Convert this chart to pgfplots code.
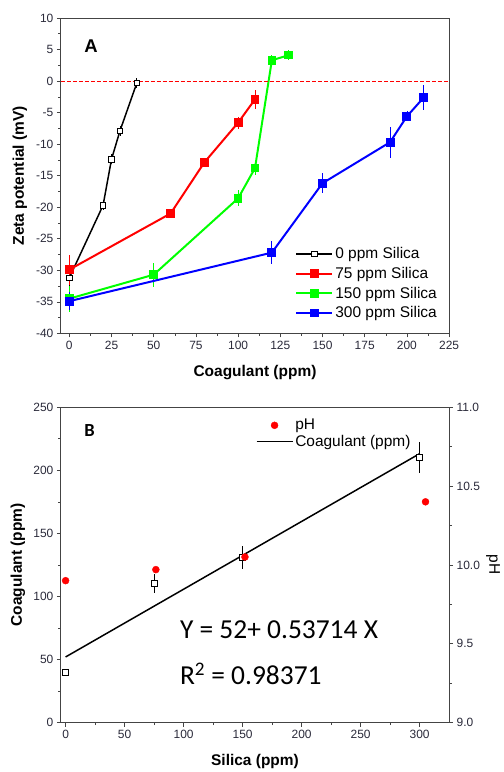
\documentclass[border=0pt]{standalone}
\usepackage{fontspec}
\setmainfont{Liberation Sans}
\newfontfamily\carlito{Carlito}
\usepackage{pgfplots}
\pgfplotsset{compat=1.18}
\definecolor{axgray}{HTML}{444444}
\definecolor{tickcol}{HTML}{2A2A3A}
\definecolor{mygreen}{HTML}{00FF00}
\definecolor{myblue}{HTML}{0000FF}
\definecolor{myred}{HTML}{FF0000}
\pgfplotsset{
  common/.style={
    scale only axis, width=389bp, height=316bp,
    tick align=outside, major tick length=4bp, minor tick length=2.5bp,
    axis line style={axgray, line width=0.8pt},
    every tick/.style={axgray, line width=0.6pt},
    /pgf/number format/assume math mode=true,
    tick label style={font=\fontsize{12bp}{14bp}\selectfont, text=tickcol},
    label style={font=\bfseries\fontsize{15.5bp}{18bp}\selectfont},
    legend image code/.code={\draw[mark repeat=2,mark phase=2,##1] plot coordinates {(0bp,0bp)(18bp,0bp)(36bp,0bp)};},
    error bars/error bar style={line width=0.8pt},
    error bars/error mark=|,
    error bars/error mark options={rotate=90, mark size=3bp, line width=0.8pt},
  }
}
\begin{document}
\begin{tikzpicture}
\path (0bp,0bp) rectangle (504bp,-772bp);
% ---------------- Panel A ----------------
\begin{axis}[common, at={(61bp,-18bp)}, anchor=north west,
  xmin=-5, xmax=225, ymin=-40, ymax=10,
  xtick={0,25,...,225}, ytick={-40,-35,...,10},
  minor x tick num=1, minor y tick num=1,
  xtick pos=bottom, ytick pos=left,
  xlabel={Coagulant (ppm)}, ylabel={Zeta potential (mV)},
  xlabel style={at={(axis description cs:0.5,-0.1234)}, anchor=center},
  ylabel style={at={(axis description cs:-0.1054,0.5)}, anchor=center},
  legend style={at={(rel axis cs:0.596,0.285)}, anchor=north west, draw=none, fill=none,
    font=\fontsize{15.5bp}{17bp}\selectfont, cells={anchor=west}, row sep=3bp},
]
\addplot[black, line width=1.5pt, mark=square*, mark size=2.8bp,
  mark options={fill=white, line width=0.8pt},
  error bars/.cd, y dir=both, y explicit]
  coordinates {(0,-31.2) +- (0,1.5) (20,-19.7) +- (0,0.3) (25,-12.4) +- (0,0.3) (30,-7.9) +- (0,0.3) (40,-0.3) +- (0,0.3)};
\addlegendentry{0 ppm Silica}
\addplot[myred, line width=2pt, mark=square*, mark size=3.5bp,
  error bars/.cd, y dir=both, y explicit]
  coordinates {(0,-29.9) +- (0,1.9) (60,-21.0) +- (0,0.3) (80,-12.9) +- (0,0.3) (100,-6.6) +- (0,0.5) (110,-2.9) +- (0,1.0)};
\addlegendentry{75 ppm Silica}
\addplot[mygreen, line width=2pt, mark=square*, mark size=3.3bp,
  error bars/.cd, y dir=both, y explicit]
  coordinates {(0,-34.5) +- (0,1.6) (50,-30.7) +- (0,1.4) (100,-18.6) +- (0,0.8) (110,-13.8) +- (0,0.6) (120,3.3) +- (0,0.3) (130,4.1) +- (0,0.3)};
\addlegendentry{150 ppm Silica}
\addplot[myblue, line width=2pt, mark=square*, mark size=3.5bp,
  error bars/.cd, y dir=both, y explicit]
  coordinates {(0,-34.9) +- (0,1.0) (120,-27.2) +- (0,1.3) (150,-16.2) +- (0,1.1) (190,-9.7) +- (0,2.0) (200,-5.6) +- (0,0.3) (210,-2.6) +- (0,1.5)};
\addlegendentry{300 ppm Silica}
\addplot[myred, mark=none, line width=1pt, dash pattern=on 4bp off 2bp] coordinates {(-5,0) (225,0)};
\node[anchor=base west, font=\bfseries\fontsize{18.5bp}{20bp}\selectfont] at (rel axis cs:0.0514,0.890) {A};
\end{axis}
% ---------------- Panel B ----------------
\begin{axis}[common, at={(61bp,-408bp)}, anchor=north west,
  xmin=-4, xmax=325, ymin=0, ymax=250,
  xtick={0,50,...,300}, ytick={0,50,...,250},
  minor x tick num=1, minor y tick num=1,
  xtick pos=bottom, ytick pos=left,
  xlabel={Silica (ppm)}, ylabel={Coagulant (ppm)},
  xlabel style={at={(axis description cs:0.5,-0.1234)}, anchor=center},
  ylabel style={at={(axis description cs:-0.1105,0.5)}, anchor=center},
]
\addplot[black, line width=1.5pt] coordinates {(0,52) (300,213.14)};
\addplot[black, only marks, mark=square*, mark size=3bp,
  mark options={fill=white, line width=0.8pt},
  error bars/.cd, y dir=both, y explicit]
  coordinates {(0,40) +- (0,0) (75,110) +- (0,5.3) (150,131) +- (0,6.8) (300,210) +- (0,10)};
\node[anchor=base west, font=\carlito\fontsize{27.5bp}{30bp}\selectfont] at (axis cs:94,66.7) {Y = 52+ 0.53714 X};
\node[anchor=base west, font=\carlito\fontsize{27.5bp}{30bp}\selectfont] at (axis cs:94,30.3) {R\textsuperscript{2} = 0.98371};
\node[anchor=base west, font=\carlito\bfseries\fontsize{18.5bp}{20bp}\selectfont] at (rel axis cs:0.0514,0.907) {B};
\end{axis}
\begin{axis}[common, at={(61bp,-408bp)}, anchor=north west,
  xmin=-4, xmax=325, ymin=9, ymax=11,
  axis x line=none, axis y line*=right,
  ytick={9,9.5,...,11}, minor y tick num=1,
  yticklabel style={/pgf/number format/.cd, fixed, fixed zerofill, precision=1},
  ylabel={pH},
  ylabel style={at={(axis description cs:1.113,0.5)}, anchor=center, rotate=180, font=\fontsize{15.5bp}{18bp}\selectfont},
  legend style={at={(rel axis cs:0.494,0.975)}, anchor=north west, draw=none, fill=none,
    font=\fontsize{15.5bp}{17bp}\selectfont, cells={anchor=west}, row sep=0bp},
]
\addplot[myred, only marks, mark=*, mark size=3.5bp]
  coordinates {(0,9.90) (76.5,9.97) (152,10.05) (305,10.40)};
\addlegendentry{pH}
\addlegendimage{black, line width=1.5pt}
\addlegendentry{Coagulant (ppm)}
\end{axis}
\end{tikzpicture}
\end{document}
